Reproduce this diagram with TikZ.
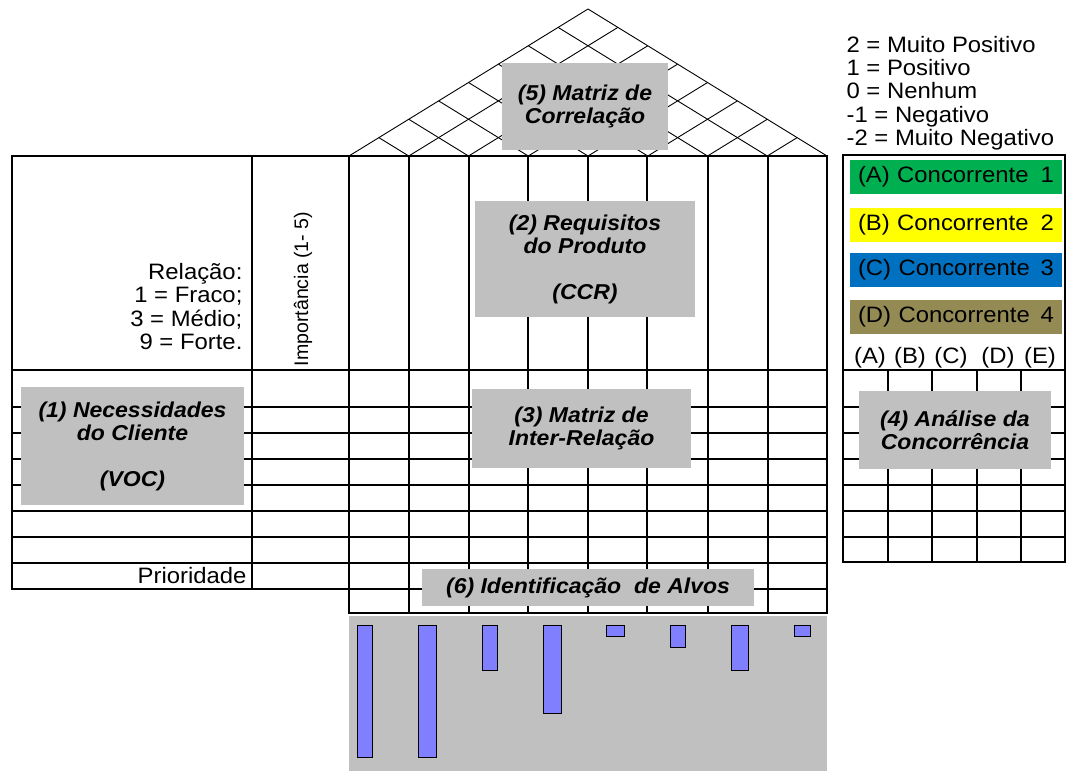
\documentclass[tikz,border=0pt]{standalone}
\usepackage{fontspec}
\setmainfont{Liberation Sans}[FakeStretch=1.07]
\newfontfamily\plainsans{Liberation Sans}
\definecolor{boxgray}{HTML}{C0C0C0}
\definecolor{barblue}{HTML}{8080FF}
\definecolor{cgreen}{HTML}{00B050}
\definecolor{cyellow}{HTML}{FFFF00}
\definecolor{cblue}{HTML}{0070C0}
\definecolor{colive}{HTML}{948A54}
\begin{document}
\begin{tikzpicture}[x=1pt,y=-1pt,line width=1.2pt,
  lbl/.style={fill=boxgray,inner sep=0pt,align=center,
    font=\bfseries\itshape\fontsize{21.5}{23.5}\selectfont},
  txt/.style={inner sep=0pt,font=\fontsize{22.3}{23.3}\selectfont},
  cbox/.style={inner xsep=8pt,inner ysep=0pt,minimum height=34pt,text width=196pt,align=left,
    font=\fontsize{22.3}{23.3}\selectfont},
  barbox/.style={draw,fill=barblue,line width=1pt},
  roofline/.style={line width=0.9pt}]
\useasboundingbox (0,0) rectangle (1067,771);

% bottom gray area with bars
\fill[boxgray] (349,616) rectangle (827,771);
\foreach \xa/\xb/\yb in {357/372/757,418/436/757,482/497/670,543/561/713,606/624/636,670/685/647,731/748/670,794/810/636}
  \draw[barbox] (\xa,625) rectangle (\xb,\yb);

% roof
\foreach \i in {0,...,8} {
  \pgfmathsetmacro\xa{349+\i*59.75}
  \draw[roofline] (\xa,156) -- ({(\xa+827)/2},{156-(827-\xa)/2*0.615});
  \draw[roofline] (\xa,156) -- ({(\xa+349)/2},{156-(\xa-349)/2*0.615});
}

% left block
\draw (12,156) rectangle (349,589);
\draw (252,156) -- (252,589);
% middle block
\draw (349,156) rectangle (827,613);
\foreach \x in {409,469,528,588,647,708,768} \draw (\x,156) -- (\x,613);
\foreach \y in {370,407,433,459,485,511,537,563} \draw (12,\y) -- (827,\y);
\draw (349,589) -- (827,589);

% right panel
\draw (843,155) rectangle (1065,562);
\foreach \y in {370,407,433,459,485,511,537} \draw (843,\y) -- (1065,\y);
\foreach \x in {888,932,977,1021} \draw (\x,370) -- (\x,562);

% legend texts
\node[txt,anchor=base west] (l1) at (846,52) {2 = Muito Positivo};
\node[txt,anchor=base west] (l2) at (846,75) {1 = Positivo};
\node[txt,anchor=base west] (l3) at (846,98) {0 = Nenhum};
\node[txt,anchor=base west] (l4) at (846,122) {-1 = Negativo};
\node[txt,anchor=base west] (l5) at (846,145) {-2 = Muito Negativo};

% competitor boxes
\node[cbox,fill=cgreen]  (ca) at (956,177) {(A) Concorrente\hfill 1};
\node[cbox,fill=cyellow] (cb) at (956,224.5) {(B) Concorrente\hfill 2};
\node[cbox,fill=cblue]   (cc) at (956,270) {(C) Concorrente\hfill 3};
\node[cbox,fill=colive]  (cd) at (956,317) {(D) Concorrente\hfill 4};

% column letters
\node[txt,anchor=base] (ha) at (870,363) {(A)};
\node[txt,anchor=base] (hb) at (910,363) {(B)};
\node[txt,anchor=base] (hc) at (951,363) {(C)};
\node[txt,anchor=base] (hd) at (998,363) {(D)};
\node[txt,anchor=base] (he) at (1040,363) {(E)};

% left header texts
\node[txt,anchor=base east] (r1) at (243,279) {Relação:};
\node[txt,anchor=base east] (r2) at (243,302) {1 = Fraco;};
\node[txt,anchor=base east] (r3) at (243,326) {3 = Médio;};
\node[txt,anchor=base east] (r4) at (243,349) {9 = Forte.};
\node[txt,anchor=base east] (prio) at (247,583) {Prioridade};
\node[inner sep=0pt,font=\plainsans\fontsize{19.6}{21}\selectfont,anchor=base west,rotate=90] (imp) at (308,367) {Importância (1- 5)};

% gray label boxes
\node[lbl,minimum width=166pt,minimum height=87pt] (b5) at (585,106.5) {(5) Matriz de\\Correlação};
\node[lbl,minimum width=220pt,minimum height=116pt] (b2) at (585,259) {(2) Requisitos\\do Produto\\[22pt](CCR)};
\node[lbl,minimum width=223pt,minimum height=118pt] (b1) at (132.5,446) {(1) Necessidades\\do Cliente\\[22pt](VOC)};
\node[lbl,minimum width=219pt,minimum height=79pt] (b3) at (581.5,428.5) {(3) Matriz de\\Inter-Relação};
\node[lbl,minimum width=192pt,minimum height=78pt] (b4) at (955,430) {(4) Análise da\\Concorrência};
\node[lbl,minimum width=332pt,minimum height=37pt] (b6) at (588,587.5) {(6) Identificação\ \ de Alvos};
\end{tikzpicture}
\end{document}
